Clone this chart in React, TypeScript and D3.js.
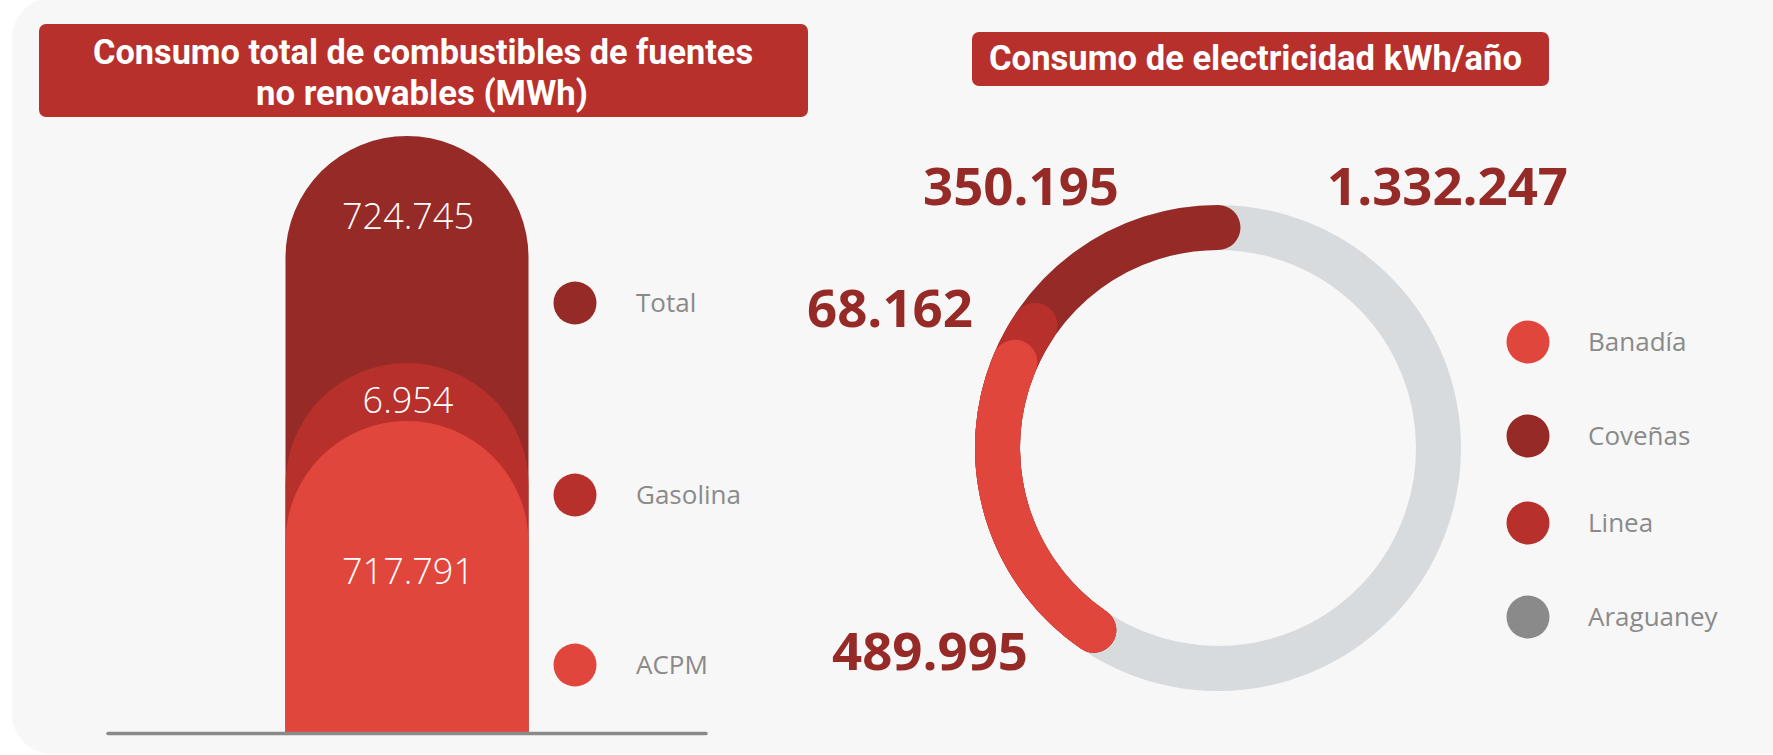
import React from "react";
import * as d3 from "d3";

// ---------- DATA ----------
const fuelCategories = ["Total", "Gasolina", "ACPM"];
const fuelValues = [724745, 6954, 717791];
const fuelLabels = ["724.745", "6.954", "717.791"];

const elecCategories = ["Banadía", "Coveñas", "Linea", "Araguaney"];
const elecValues = [489995, 350195, 68162, 423895];
const elecLabels = ["489.995", "350.195", "68.162", "1.332.247"];
const elecTotal = 1332247;

const titleLeft = ["Consumo total de combustibles de fuentes", "no renovables (MWh)"];
const titleRight = "Consumo de electricidad kWh/año";

// ---------- STYLE ----------
const W = 1773;
const H = 755;
const C_DARK = "#962a27";
const C_MID = "#b8302b";
const C_BRIGHT = "#e1463d";
const C_GRAY = "#8a8a8a";
const C_TRACK = "#d8dbde";
const fuelColors = d3.scaleOrdinal<string, string>().domain(fuelCategories).range([C_DARK, C_MID, C_BRIGHT]);
const elecColors = d3.scaleOrdinal<string, string>().domain(elecCategories).range([C_BRIGHT, C_DARK, C_MID, C_GRAY]);

const SANS = "'Open Sans', 'Noto Sans', sans-serif";
const BOLD = "Roboto, 'Open Sans', sans-serif";

export default function App() {
  // ---- left chart: layered pills ----
  const barX0 = 285.5;
  const barX1 = 528.5;
  const barCx = (barX0 + barX1) / 2;
  const barR = (barX1 - barX0) / 2;
  const baseY = 732;
  // decorative layer tops (infographic, non-proportional)
  const layerTop = d3.scaleOrdinal<string, number>().domain(fuelCategories).range([136, 363, 421]);
  const labelY = d3.scaleOrdinal<string, number>().domain(fuelCategories).range([229, 413, 584]);
  const legendY = d3.scaleOrdinal<string, number>().domain(fuelCategories).range([303, 495, 665]);

  const pill = (top: number) => {
    const p = d3.path();
    p.moveTo(barX0, baseY);
    p.lineTo(barX0, top + barR);
    p.arc(barCx, top + barR, barR, Math.PI, 2 * Math.PI, false);
    p.lineTo(barX1, baseY);
    p.closePath();
    return p.toString();
  };

  // ---- right chart: donut ----
  const cx = 1218;
  const cy = 448;
  const rMid = 220.5;
  const thick = 45;
  const angle = d3.scaleLinear().domain([0, elecTotal]).range([0, (213.7 * Math.PI) / 180]);
  const order = ["Banadía", "Linea", "Coveñas"];
  const valOf = (k: string) => elecValues[elecCategories.indexOf(k)];
  const sumShown = d3.sum(order, valOf);
  const start = -angle(sumShown);
  let acc = 0;
  const arcs = order.map((k) => {
    acc += valOf(k);
    return { k, end: start + angle(acc) };
  });
  const arcPath = (a0: number, a1: number) => {
    const p = d3.path();
    p.arc(cx, cy, rMid, a0 - Math.PI / 2, a1 - Math.PI / 2, false);
    return p.toString();
  };

  const legendRightY = d3.scaleOrdinal<string, number>().domain(elecCategories).range([342, 436, 523, 617]);
  const donutLabelPos: Record<string, [number, number, number]> = {
    "489.995": [832, 670, 196],
    "350.195": [923, 205, 196],
    "68.162": [807, 327, 166],
    "1.332.247": [1327, 205, 241],
  };

  return (
    <svg width={W} height={H} style={{ position: "absolute", left: 0, top: 0, background: "#ffffff" }}>
      <rect x={12} y={-2} width={1790} height={756} rx={40} fill="#f7f7f7" />

      {/* titles */}
      <rect x={39} y={24} width={769} height={93} rx={7} fill={C_MID} />
      <text x={423} y={64} textAnchor="middle" fill="#fff" fontFamily={BOLD} fontWeight={700} fontSize={35.5} textLength={660} lengthAdjust="spacingAndGlyphs">
        {titleLeft[0]}
      </text>
      <text x={422} y={105} textAnchor="middle" fill="#fff" fontFamily={BOLD} fontWeight={700} fontSize={35.5} textLength={332} lengthAdjust="spacingAndGlyphs">
        {titleLeft[1]}
      </text>
      <rect x={972} y={32} width={577} height={54} rx={7} fill={C_MID} />
      <text x={989} y={70} fill="#fff" fontFamily={BOLD} fontWeight={700} fontSize={35.5} textLength={533} lengthAdjust="spacingAndGlyphs">
        {titleRight}
      </text>

      {/* left pills */}
      {fuelCategories.map((c) => (
        <path key={c} d={pill(layerTop(c))} fill={fuelColors(c)} />
      ))}
      {fuelCategories.map((c, i) => (
        <text key={c + "l"} x={barCx + 1} y={labelY(c)} textAnchor="middle" fill="#fff" fontFamily={SANS} fontWeight={300} fontSize={36}>
          {fuelLabels[i]}
        </text>
      ))}
      <line x1={108} x2={706} y1={733.5} y2={733.5} stroke={C_GRAY} strokeWidth={3.5} strokeLinecap="round" />
      {fuelCategories.map((c) => (
        <g key={c + "g"}>
          <circle cx={575} cy={legendY(c)} r={21.5} fill={fuelColors(c)} />
          <text x={636} y={legendY(c)} dy="0.36em" fill={C_GRAY} fontFamily={SANS} fontSize={26}>
            {c}
          </text>
        </g>
      ))}

      {/* donut */}
      <circle cx={cx} cy={cy} r={rMid} fill="none" stroke={C_TRACK} strokeWidth={thick} />
      {[...arcs].reverse().map((a) => (
        <path key={a.k} d={arcPath(start, a.end)} fill="none" stroke={elecColors(a.k)} strokeWidth={thick} strokeLinecap="round" />
      ))}
      {elecLabels.map((l) => {
        const [x, y, w] = donutLabelPos[l];
        return (
          <text key={l} x={x} y={y} fill={C_DARK} fontFamily={SANS} fontWeight={700} fontSize={52} textLength={w} lengthAdjust="spacingAndGlyphs">
            {l}
          </text>
        );
      })}
      {elecCategories.map((c) => (
        <g key={c + "r"}>
          <circle cx={1528} cy={legendRightY(c)} r={21.5} fill={elecColors(c)} />
          <text x={1588} y={legendRightY(c)} dy="0.36em" fill={C_GRAY} fontFamily={SANS} fontSize={26}>
            {c}
          </text>
        </g>
      ))}
    </svg>
  );
}
